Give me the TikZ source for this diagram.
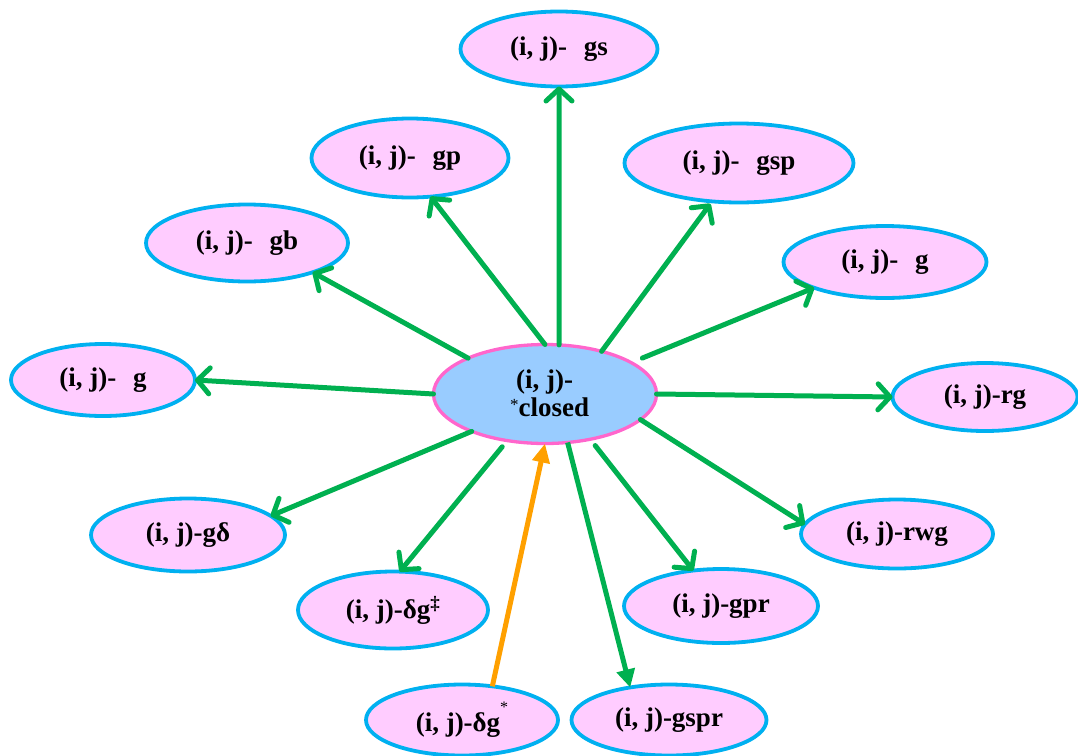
\documentclass[tikz,border=0pt]{standalone}
\usepackage{fontspec}
\setmainfont{Liberation Serif}
\usetikzlibrary{shapes.geometric,arrows.meta}
\definecolor{agreen}{HTML}{00B050}
\definecolor{bcyan}{HTML}{00B0F0}
\definecolor{pfill}{HTML}{FFCCFF}
\definecolor{cfill}{HTML}{99CCFF}
\definecolor{cborder}{HTML}{FF66CC}
\definecolor{aorange}{HTML}{FFA000}
\newcommand\ijpre{(i, j)-}
\newcommand\lgap{\hspace{0.62em}}
\begin{document}
\begin{tikzpicture}[x=1pt,y=-1pt,
  font=\bfseries\fontsize{27}{30}\selectfont,
  leaf/.style={ellipse, draw=bcyan, line width=3.8pt, fill=pfill, inner sep=0pt, outer sep=0pt},
  hub/.style={ellipse, draw=cborder, line width=3.3pt, fill=cfill, inner sep=0pt, outer sep=0pt},
  arr/.style={draw=agreen, line width=5pt, line cap=round,
    -{Straight Barb[length=12pt,width=26pt,line cap=round,line join=round]}},
  arrf/.style={draw=agreen, line width=5pt, -{Triangle[length=18pt,width=18pt]}},
  arro/.style={draw=aorange, line width=5pt, -{Triangle[length=19pt,width=17pt]}}]
\useasboundingbox (0,0) rectangle (1078,755);

\node[hub, minimum width=223pt, minimum height=99pt] (c) at (545,394) {};
\node[align=left, inner sep=0pt, anchor=north west] (ct) at (510,370)
  {\hspace{6pt}\ijpre\\[-2pt]\raisebox{0.25em}{\mdseries\fontsize{17}{17}\selectfont *}closed};

\node[leaf, minimum width=197pt, minimum height=75pt] (gs) at (559,49) {\ijpre\lgap gs};
\node[leaf, minimum width=197pt, minimum height=79pt] (gp) at (410,158) {\ijpre\lgap gp};
\node[leaf, minimum width=229pt, minimum height=79pt] (gsp) at (739,163) {\ijpre\lgap gsp};
\node[leaf, minimum width=202pt, minimum height=77pt] (gb) at (247,243) {\ijpre\lgap gb};
\node[leaf, minimum width=203pt, minimum height=72pt] (gr) at (885,262) {\ijpre\lgap g};
\node[leaf, minimum width=184pt, minimum height=72pt] (gl) at (103,380) {\ijpre\lgap g};
\node[leaf, minimum width=185pt, minimum height=68pt] (rg) at (985,397) {\ijpre rg};
\node[leaf, minimum width=194pt, minimum height=73pt] (gd) at (188,535) {\ijpre gδ};
\node[leaf, minimum width=192pt, minimum height=69pt] (rwg) at (897,534) {\ijpre rwg};
\node[leaf, minimum width=190pt, minimum height=77pt] (dgd) at (393,610) {\ijpre δg\textsuperscript{‡}};
\node[leaf, minimum width=194pt, minimum height=74pt] (gpr) at (721,606) {\ijpre gpr};
\node[leaf, minimum width=192pt, minimum height=71pt] (dgs) at (462,720) {\ijpre δg\raisebox{0.7em}{\mdseries\fontsize{16}{16}\selectfont *}};
\node[leaf, minimum width=195pt, minimum height=71pt] (gspr) at (669,720) {\ijpre gspr};

\draw[arr] (c.74) -- (gs.south);
\draw[arr] (c.90) -- (gp.-62);
\draw[arr, shorten >=3pt] (c.37) -- (gsp.235);
\draw[arr, shorten <=12pt] (c.20) -- (gr.200);
\draw[arr] (c.east) -- (rg.west);
\draw[arr] (c.-15) -- (rwg.174);
\draw[arr, shorten <=8pt] (c.-45) -- (gpr.128);
\draw[arrf] (c.-65) -- (gspr.140);
\draw[arro] (dgs.48) -- (c.south);
\draw[arr, shorten <=8pt] (c.231) -- (dgd.80);
\draw[arr] (c.207) -- (gd.13);
\draw[arr] (c.west) -- (gl.east);
\draw[arr] (c.155) -- (gb.-24);
\end{tikzpicture}
\end{document}
